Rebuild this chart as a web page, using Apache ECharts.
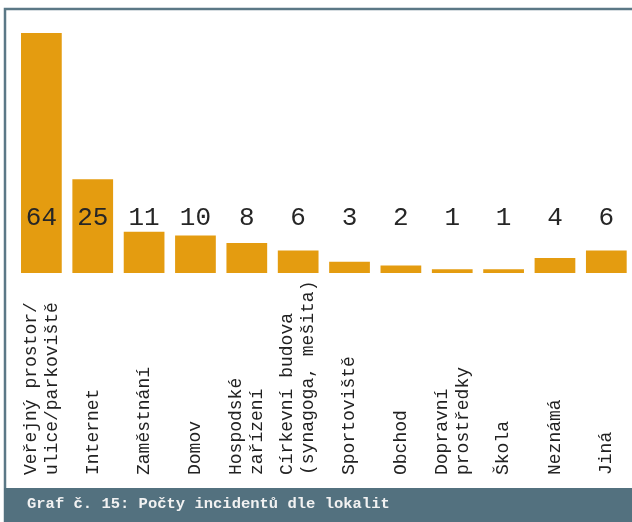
<!DOCTYPE html>
<html>
<head>
<meta charset="utf-8">
<script src="https://cdn.jsdelivr.net/npm/echarts@6/dist/echarts.min.js"></script>
<style>
  html, body { margin: 0; padding: 0; background: #fff; }
  #chart { width: 632px; height: 522px; }
</style>
</head>
<body>
<div id="chart"></div>
<script>
// locations (multi-line labels as in the original)
const categories = [
  "Veřejný prostor/\nulice/parkoviště",
  "Internet",
  "Zaměstnání",
  "Domov",
  "Hospodské\nzařízení",
  "Církevní budova\n(synagoga, mešita)",
  "Sportoviště",
  "Obchod",
  "Dopravní\nprostředky",
  "Škola",
  "Neznámá",
  "Jiná"
];
const incidents = [64, 25, 11, 10, 8, 6, 3, 2, 1, 1, 4, 6];
const chartTitle = "Graf č. 15: Počty incidentů dle lokalit";

const chart = echarts.init(document.getElementById("chart"));
const mono = "'Liberation Mono', 'DejaVu Sans Mono', monospace";

chart.setOption({
  backgroundColor: "#ffffff",
  animation: false,
  grid: { left: 15.7, right: -4, top: 33, bottom: 249 },
  graphic: [
    {
      type: "rect",
      shape: { x: 5, y: 9, width: 700, height: 600 },
      style: { fill: null, stroke: "#5b7886", lineWidth: 2.5 },
      silent: true
    },
    {
      type: "rect",
      shape: { x: 4, y: 488, width: 640, height: 40 },
      style: { fill: "#53717f" },
      silent: true
    },
    {
      type: "text",
      left: 27,
      top: 496,
      style: {
        text: chartTitle,
        fill: "#f2f2f2",
        font: "bold 15.5px " + mono
      },
      silent: true
    }
  ],
  xAxis: {
    type: "category",
    data: categories,
    axisLine: { show: false },
    axisTick: { show: false },
    axisLabel: {
      interval: 0,
      rotate: 90,
      align: "left",
      verticalAlign: "middle",
      margin: 202,
      fontFamily: mono,
      fontSize: 18,
      lineHeight: 21,
      color: "#222"
    }
  },
  yAxis: {
    type: "value",
    min: 0,
    max: 64,
    show: false,
    splitLine: { show: false }
  },
  series: [
    {
      type: "bar",
      data: incidents,
      barCategoryGap: "20.7%",
      itemStyle: { color: "#e49c10" },
      label: {
        show: true,
        position: "insideBottom",
        distance: 42,
        fontFamily: mono,
        fontSize: 26,
        color: "#262626"
      }
    }
  ]
});
</script>
</body>
</html>
